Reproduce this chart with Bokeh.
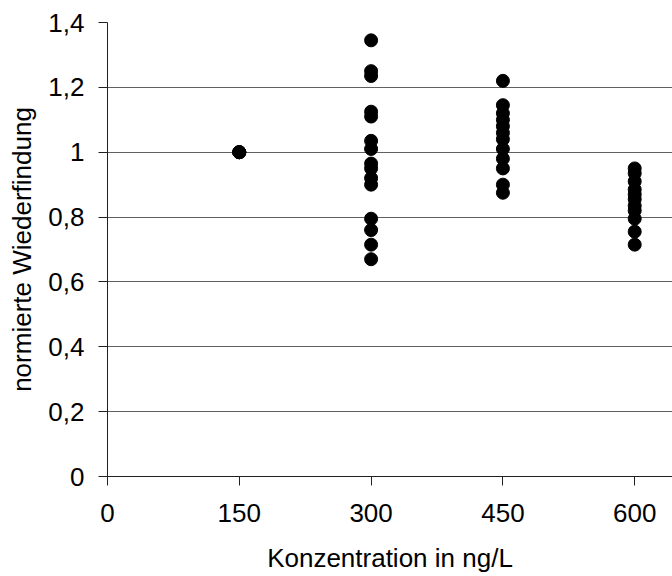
from bokeh.plotting import figure
from bokeh.embed import file_html
from bokeh.resources import INLINE
from bokeh.models import FixedTicker, CustomJSTickFormatter, Range1d

conc_150 = [150, 150, 150, 150]
val_150 = [1.0, 1.0, 1.0, 1.0]

conc_300 = [300] * 15
val_300 = [1.345, 1.25, 1.235, 1.125, 1.11, 1.035, 1.01, 0.965, 0.95, 0.92, 0.9, 0.795, 0.76, 0.715, 0.67]

conc_450 = [450] * 12
val_450 = [1.22, 1.145, 1.12, 1.10, 1.08, 1.06, 1.04, 1.01, 0.98, 0.95, 0.9, 0.875]

conc_600 = [600] * 11
val_600 = [0.95, 0.935, 0.91, 0.885, 0.87, 0.855, 0.835, 0.82, 0.795, 0.755, 0.715]

x_ticks = [0, 150, 300, 450, 600]
y_ticks = [0, 0.2, 0.4, 0.6, 0.8, 1.0, 1.2, 1.4]

p = figure(width=672, height=576, output_backend="svg", toolbar_location=None,
           x_range=Range1d(0, 643), y_range=Range1d(0, 1.4),
           min_border_left=107, min_border_top=22, min_border_right=0, min_border_bottom=100)
p.outline_line_color = None
p.background_fill_color = "white"

xs = conc_150 + conc_300 + conc_450 + conc_600
ys = val_150 + val_300 + val_450 + val_600
p.scatter(xs, ys, size=13, fill_color="black", line_color="black")

font = "Liberation Sans"
p.xaxis.ticker = FixedTicker(ticks=x_ticks)
p.yaxis.ticker = FixedTicker(ticks=y_ticks)
p.yaxis.formatter = CustomJSTickFormatter(code="let s = (Math.round(tick*10)/10).toString(); return s.replace('.', ',');")
p.xaxis.axis_label = "Konzentration in ng/L"
p.yaxis.axis_label = "normierte Wiederfindung"
for ax in (p.xaxis, p.yaxis):
    ax.axis_label_text_font = font
    ax.axis_label_text_font_size = "26px"
    ax.axis_label_text_font_style = "normal"
    ax.major_label_text_font = font
    ax.major_label_text_font_size = "26px"
    ax.major_label_text_color = "black"
    ax.axis_label_text_color = "black"
    ax.axis_line_color = "#202020"
    ax.major_tick_line_color = "#202020"
    ax.major_tick_out = 9
    ax.major_tick_in = 0
    ax.minor_tick_line_color = None
p.xaxis.major_label_standoff = 18
p.xaxis.axis_label_standoff = 18
p.yaxis.major_label_standoff = 14
p.yaxis.axis_label_standoff = 8

p.xgrid.grid_line_color = None
p.ygrid.grid_line_color = "#606060"
p.ygrid.grid_line_width = 1

open("out.html", "w").write(file_html(p, INLINE))
